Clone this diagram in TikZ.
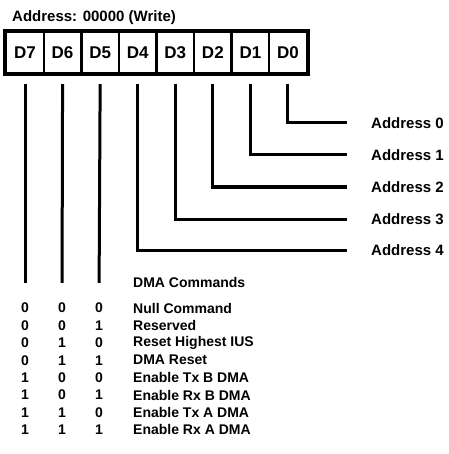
\documentclass[tikz,border=0pt]{standalone}
\usepackage{fontspec}
\setmainfont{Liberation Sans}
\begin{document}
\begin{tikzpicture}[x=1pt,y=-1pt,
 cell/.style={draw, line width=2.4pt, minimum width=37.57pt, minimum height=41pt, inner sep=0pt, font=\bfseries\fontsize{17}{19}\selectfont},
 lbl/.style={anchor=west, inner sep=0pt, font=\bfseries\fontsize{15}{17}\selectfont},
 txt/.style={anchor=west, inner sep=0pt, font=\bfseries\fontsize{14}{16}\selectfont},
 num/.style={inner sep=0pt, font=\bfseries\fontsize{14}{16}\selectfont},
 wire/.style={line width=3pt}]
\useasboundingbox (0,0) rectangle (448,454);
\node[lbl] (title) at (12,18) {Address: 00000 (Write)};
\foreach \n [count=\i from 0] in {7,6,5,4,3,2,1,0}
  \node[cell] (d\n) at ({25+37.57*\i},52.5) {D\n};
\draw[line width=3.5pt] (d7.north west) rectangle (d0.south east);
\foreach \k/\y in {0/123,1/155,2/187,3/219,4/250}{
  \node[lbl] (a\k) at (371,\y) {Address \k};
  \draw[wire] ([yshift=-10pt]d\k.south) |- ([xshift=-24pt]a\k.west);
}
\node[txt] (hdr) at (133,282) {DMA Commands};
\foreach \t [count=\r from 0] in {Null Command,Reserved,Reset Highest IUS,DMA Reset,Enable Tx B DMA,Enable Rx B DMA,Enable Tx A DMA,Enable Rx A DMA}{
  \pgfmathtruncatemacro{\ba}{div(\r,4)}
  \pgfmathtruncatemacro{\bb}{mod(div(\r,2),2)}
  \pgfmathtruncatemacro{\bc}{mod(\r,2)}
  \node[num] (c7r\r) at (25,{308+17.4*\r}) {\ba};
  \node[num] (c6r\r) at (62,{308+17.4*\r}) {\bb};
  \node[num] (c5r\r) at (99,{308+17.4*\r}) {\bc};
  \node[txt] (t\r) at (133,{308+17.4*\r}) {\t};
}
\foreach \n in {7,6,5}
  \draw[wire, shorten >=20pt] ([yshift=-10pt]d\n.south) -- (c\n r0.north);
\end{tikzpicture}
\end{document}
